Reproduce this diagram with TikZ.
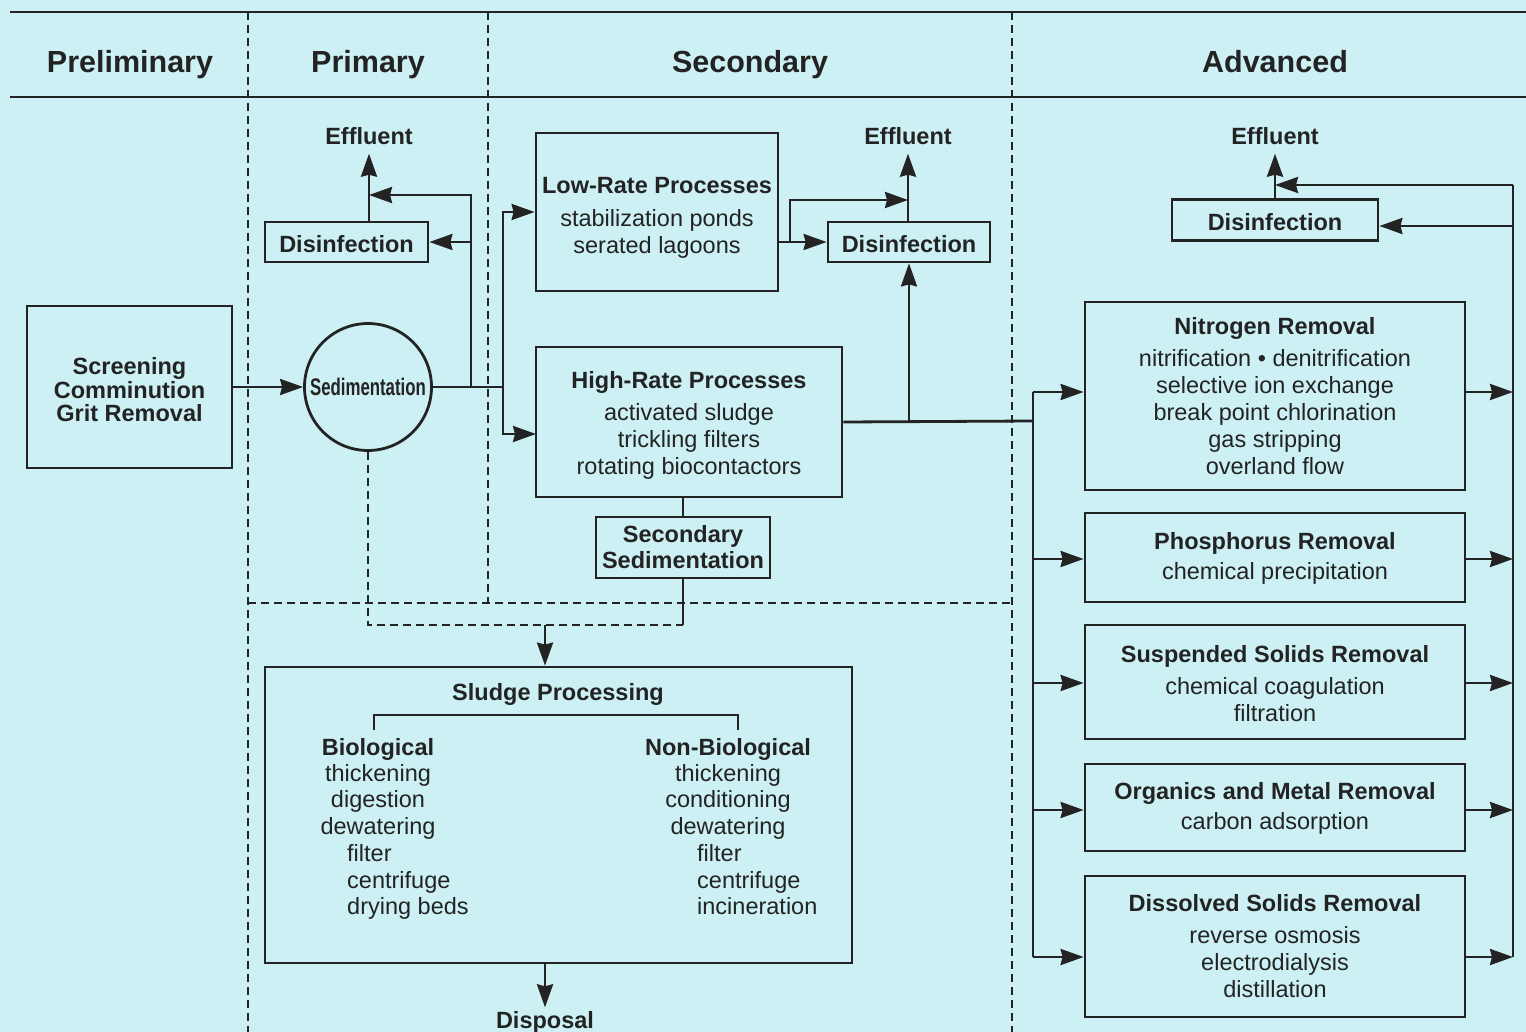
\documentclass[tikz,border=0pt]{standalone}
\usepackage{graphicx}
\usepackage{fontspec}
\setmainfont{Liberation Sans}
\usetikzlibrary{arrows.meta}
\definecolor{bg}{RGB}{204,240,244}
\definecolor{ink}{RGB}{35,35,35}
\newcommand\tstr[1]{\rule{0pt}{#1}}
\begin{document}
\begin{tikzpicture}[x=1pt,y=-1pt,
  every node/.style={text=ink},
  ln/.style={draw=ink,line width=2.8pt},
  arr/.style={ln,-{Stealth[length=23pt,width=16pt,inset=2pt]}},
  dsh/.style={draw=ink,line width=2.4pt,dash pattern=on 8pt off 5pt},
  box/.style={draw=ink,line width=2.8pt,align=center,inner sep=0pt,font=\fontsize{23.5}{27}\selectfont},
  hdr/.style={font=\fontsize{30.5}{34}\bfseries\selectfont,text height=22pt,text depth=6pt,inner sep=0pt},
  bld/.style={font=\fontsize{23.5}{27}\bfseries\selectfont,text height=17pt,text depth=5pt,inner sep=3.5pt},
  txt/.style={font=\fontsize{23.5}{27}\selectfont,text height=17pt,text depth=5pt,inner sep=0pt},
]
\useasboundingbox[fill=bg] (0,0) rectangle (1526,1032);

% header rules and column separators
\draw[ln] (10,12) -- (1526,12);
\draw[ln] (10,97) -- (1526,97);
\draw[dsh] (248,12) -- (248,1032);
\draw[dsh] (488,12) -- (488,603);
\draw[dsh] (1012,12) -- (1012,1032);
\draw[dsh] (248,603) -- (1012,603);

% headers
\node[hdr] (h1) at (130,65) {Preliminary};
\node[hdr] (h2) at (368,65) {Primary};
\node[hdr] (h3) at (750,65) {Secondary};
\node[hdr] (h4) at (1275,65) {Advanced};

% preliminary / primary
\node[box,font=\fontsize{23.5}{23.5}\bfseries\selectfont,minimum width=205pt,minimum height=162pt] (scr) at (129.5,387) {\tstr{23pt}Screening\\Comminution\\Grit Removal};
\node[circle,draw=ink,line width=2.8pt,minimum size=127pt,inner sep=0pt,font=\fontsize{24}{26}\bfseries\selectfont] (sed) at (368,387) {\scalebox{0.7}[1]{Sedimentation}};
\node[box,font=\fontsize{23.5}{27}\bfseries\selectfont,minimum width=163pt,minimum height=40pt] (dis1) at (346.5,242) {\tstr{21pt}Disinfection};
\node[bld] (eff1) at (369,139) {Effluent};

% secondary
\node[box,minimum width=242pt,minimum height=158pt] (low) at (657,212) {\tstr{27pt}{\bfseries Low-Rate Processes}\\[6pt]stabilization ponds\\serated lagoons};
\node[box,font=\fontsize{23.5}{27}\bfseries\selectfont,minimum width=162pt,minimum height=40pt] (dis2) at (909,242) {\tstr{21pt}Disinfection};
\node[bld] (eff2) at (908,139) {Effluent};
\node[box,minimum width=306pt,minimum height=150pt] (high) at (689,422) {\tstr{23pt}{\bfseries High-Rate Processes}\\[5pt]activated sludge\\trickling filters\\rotating biocontactors};
\node[box,font=\fontsize{23.5}{26}\bfseries\selectfont,minimum width=174pt,minimum height=61pt] (ssed) at (683,547.5) {Secondary\\Sedimentation};

% sludge
\node[box,minimum width=587pt,minimum height=296pt] (sludge) at (558.5,815) {};
\node[bld] (sp) at (558,694) {Sludge Processing};
\coordinate (bk1) at (374,730);
\coordinate (bk2) at (738,730);
\draw[draw=ink,line width=2.4pt] (bk1) -- (374,715) -- (738,715) -- (bk2);
\node[bld] (bio) at (378,749) {Biological};
\node[bld] (nbio) at (728,749) {Non-Biological};
\foreach \t [count=\i] in {thickening,digestion,dewatering}
  \node[txt] (bc\i) at (378,{748.5+26.7*\i}) {\t};
\foreach \t [count=\i from 4] in {filter,centrifuge,drying beds}
  \node[txt,anchor=west] (bc\i) at (347,{748.5+26.7*\i}) {\t};
\foreach \t [count=\i] in {thickening,conditioning,dewatering}
  \node[txt] (nc\i) at (728,{748.5+26.7*\i}) {\t};
\foreach \t [count=\i from 4] in {filter,centrifuge,incineration}
  \node[txt,anchor=west] (nc\i) at (697,{748.5+26.7*\i}) {\t};
\node[bld] (disp) at (545,1022) {Disposal};

% advanced
\node[box,font=\fontsize{23.5}{27}\bfseries\selectfont,minimum width=206pt,minimum height=41pt] (dis3) at (1275,220) {\tstr{21pt}Disinfection};
\node[bld] (eff3) at (1275,139) {Effluent};
\node[box,minimum width=380pt,minimum height=188pt] (nit) at (1275,396) {{\bfseries Nitrogen Removal}\\[5pt]nitrification • denitrification\\selective ion exchange\\break point chlorination\\gas stripping\\overland flow};
\node[box,minimum width=380pt,minimum height=89pt] (pho) at (1275,557.5) {\tstr{19pt}{\bfseries Phosphorus Removal}\\[3pt]chemical precipitation};
\node[box,minimum width=380pt,minimum height=114pt] (sus) at (1275,682) {\tstr{21pt}{\bfseries Suspended Solids Removal}\\[5pt]chemical coagulation\\filtration};
\node[box,minimum width=380pt,minimum height=87pt] (org) at (1275,807.5) {\tstr{19pt}{\bfseries Organics and Metal Removal}\\[3pt]carbon adsorption};
\node[box,minimum width=380pt,minimum height=141pt] (dso) at (1275,946.5) {{\bfseries Dissolved Solids Removal}\\[5pt]reverse osmosis\\electrodialysis\\distillation};

% connectors: primary
\draw[arr] (scr.east) -- (sed.west);
\coordinate (j0) at (471,387);
\coordinate (j1) at (503,387);
\coordinate (j2) at (471,242);
\coordinate (p1) at (369,195);
\coordinate (hin) at (536,434);
\draw[ln] (sed.east) -- (j1);
\draw[arr] (j0) |- (p1);
\draw[arr] (j2) -- (dis1.east);
\draw[arr] (dis1.north -| eff1.south) -- (eff1.south);
\draw[arr] (j1) |- (low.west);
\draw[arr] (j1) |- (hin);

% connectors: secondary
\coordinate (j4) at (790,242);
\coordinate (p2) at (908,200);
\draw[arr] (low.east |- dis2.west) -- (dis2.west);
\draw[arr] (j4) |- (p2);
\draw[arr] (dis2.north -| eff2.south) -- (eff2.south);
\coordinate (j5) at (1033,421);
\draw[ln] (high.east) -- (j5);
\draw[arr] (dis2.south |- j5) -- (dis2.south);
\draw[ln] (high.south -| ssed.north) -- (ssed.north);
\coordinate (k1) at (683,625);
\coordinate (k2) at (368,625);
\coordinate (k3) at (545,625);
\draw[ln] (ssed.south) -- (k1);
\draw[dsh] (sed.south) -- (k2) -- (k1);
\draw[arr] (k3) -- (k3 |- sludge.north);
\draw[arr] (sludge.south -| k3) -- (disp.north);

% connectors: advanced
\draw[arr] (dis3.north) -- (dis3.north |- eff3.south);
\coordinate (r0) at (1513,185);
\coordinate (r1) at (1513,226);
\draw[arr] (r0) -- (dis3.north |- r0);
\draw[arr] (r1) -- (dis3.east |- r1);
\foreach \b/\yy in {nit/392,pho/559,sus/683,org/810,dso/957} {
  \coordinate (L\b) at (1033,\yy);
  \coordinate (R\b) at (1513,\yy);
  \draw[arr] (L\b) -- (L\b -| \b.west);
  \draw[arr] (R\b -| \b.east) -- (R\b);
}
\draw[ln] (Lnit) -- (Ldso);
\draw[ln] (r0) -- (Rdso);
\end{tikzpicture}
\end{document}
